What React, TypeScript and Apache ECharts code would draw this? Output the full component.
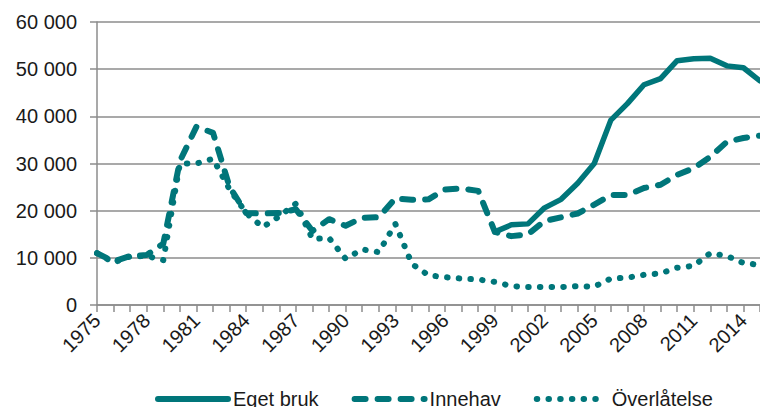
import React, { useEffect, useRef } from "react";
import * as echarts from "echarts";

const years = [
  "1975", "1976", "1977", "1978", "1979", "1980", "1981", "1982", "1983", "1984",
  "1985", "1986", "1987", "1988", "1989", "1990", "1991", "1992", "1993", "1994",
  "1995", "1996", "1997", "1998", "1999", "2000", "2001", "2002", "2003", "2004",
  "2005", "2006", "2007", "2008", "2009", "2010", "2011", "2012", "2013", "2014",
  "2015",
];

const egetBruk = [
  null, null, null, null, null, null, null, null, null, null,
  null, null, null, null, null, null, null, null, null, null,
  null, null, null, null, 15500, 17000, 17200, 20600, 22400, 25800,
  30000, 39200, 42700, 46700, 48000, 51800, 52200, 52300, 50700, 50300,
  47500,
];

const innehav = [
  11000, 9200, 10400, 10600, 13000, 30500, 37800, 36500, 25000, 19500,
  19400, 19500, 20300, 15700, 18200, 16800, 18500, 18600, 22600, 22300,
  22400, 24500, 24700, 24200, 15500, 14600, 15000, 17800, 18600, 19400,
  21300, 23300, 23300, 24800, 25500, 27600, 29000, 31400, 34600, 35400,
  35900,
];

const overlatelse = [
  11000, 9000, 10300, 10400, 9500, 30000, 30000, 31000, 24500, 19500,
  16500, 18800, 21500, 14000, 14200, 9800, 11800, 11200, 17200, 8700,
  6300, 5900, 5600, 5400, 4900, 4000, 3800, 3800, 3800, 4000,
  3900, 5600, 5800, 6400, 6700, 7900, 8300, 11000, 10400, 8900,
  8500,
];

const seriesNames = ["Eget bruk", "Innehav", "Överlåtelse"];

const TEAL = "#00767a";
const GRID = "#8c8c8c";
const FONT = "Liberation Sans, Arial, sans-serif";

export default function App() {
  const ref = useRef<HTMLDivElement>(null);

  useEffect(() => {
    const chart = echarts.init(ref.current!, null, { renderer: "svg" });
    chart.setOption({
      animation: false,
      backgroundColor: "#ffffff",
      grid: { left: 97, right: -4, top: 22, bottom: 102, containLabel: false },
      xAxis: {
        type: "category",
        data: years,
        boundaryGap: false,
        axisLine: { show: true, lineStyle: { color: GRID, width: 1.5 } },
        axisTick: { show: true, interval: 0, length: 7, lineStyle: { color: GRID, width: 1.5 } },
        axisLabel: {
          interval: 2,
          rotate: 45,
          margin: 12,
          fontSize: 20,
          color: "#1a1a1a",
          fontFamily: FONT,
        },
        splitLine: { show: false },
      },
      yAxis: {
        type: "value",
        min: 0,
        max: 60000,
        interval: 10000,
        axisLine: { show: true, lineStyle: { color: GRID, width: 1.5 } },
        axisTick: { show: true, inside: false, length: 7, lineStyle: { color: GRID, width: 1.5 } },
        axisLabel: {
          margin: 20,
          fontSize: 20,
          color: "#1a1a1a",
          fontFamily: FONT,
          formatter: (v: number) => {
            if (v === 0) return "0";
            const th = Math.floor(v / 1000);
            const rest = String(v % 1000).padStart(3, "0");
            return th + " " + rest;
          },
        },
        splitLine: { show: true, lineStyle: { color: GRID, width: 1.5 } },
      },
      legend: {
        data: seriesNames,
        left: 150,
        top: 384,
        itemWidth: 70,
        itemHeight: 14,
        itemGap: 33,
        itemStyle: { opacity: 0 },
        lineStyle: { width: 6, cap: "round" },
        textStyle: { fontSize: 20, color: "#1a1a1a", fontFamily: FONT },
      },
      series: [
        {
          name: seriesNames[0],
          type: "line",
          data: egetBruk,
          showSymbol: false,
          symbol: "none",
          connectNulls: false,
          itemStyle: { color: TEAL },
          lineStyle: { color: TEAL, width: 5.5, cap: "round", join: "round" },
        },
        {
          name: seriesNames[1],
          type: "line",
          data: innehav,
          showSymbol: false,
          symbol: "none",
          itemStyle: { color: TEAL },
          lineStyle: { color: TEAL, width: 6, type: [11, 12], cap: "round", join: "round" },
        },
        {
          name: seriesNames[2],
          type: "line",
          data: overlatelse,
          showSymbol: false,
          symbol: "none",
          itemStyle: { color: TEAL },
          lineStyle: { color: TEAL, width: 6, type: [0.5, 11.2], cap: "round", join: "round" },
        },
      ],
    });
    return () => chart.dispose();
  }, []);

  return (
    <div
      ref={ref}
      style={{ position: "absolute", left: 0, top: 0, width: 760, height: 407 }}
    />
  );
}
